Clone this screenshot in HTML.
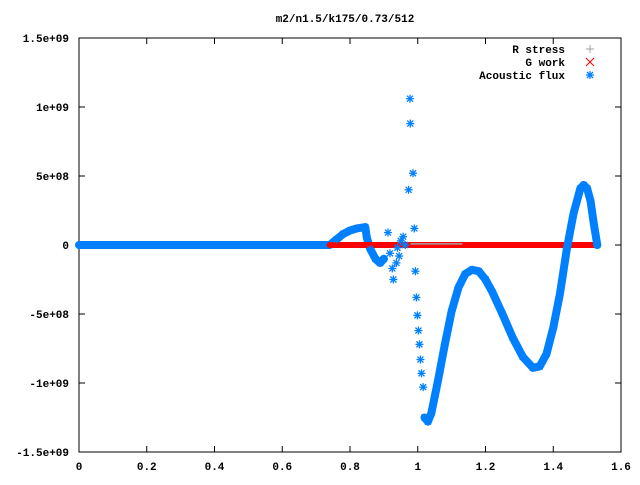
<!DOCTYPE html>
<html><head><meta charset="utf-8"><style>
html,body{margin:0;padding:0;background:#fff;}
svg text{font-family:"Liberation Mono",monospace;font-size:11px;font-weight:bold;fill:#000;}
</style></head><body>
<svg id="chart" width="640" height="480" xmlns="http://www.w3.org/2000/svg">
<rect x="0" y="0" width="640" height="480" fill="#fff"/>
<text x="345" y="22" text-anchor="middle">m2/n1.5/k175/0.73/512</text>
<g id="axes"></g>
<g id="series"></g>
<g id="legend">
<text x="565" y="53" text-anchor="end">R stress</text>
<text x="565" y="66" text-anchor="end">G work</text>
<text x="565" y="79" text-anchor="end">Acoustic flux</text>
<g stroke="#a0a0a0" stroke-width="1"><line x1="586" y1="49" x2="594" y2="49"/><line x1="590" y1="45" x2="590" y2="53"/></g>
<g stroke="#ff0000" stroke-width="1"><line x1="586" y1="58" x2="594" y2="66"/><line x1="594" y1="58" x2="586" y2="66"/></g>
<g stroke="#0080ff" stroke-width="1.3"><line x1="586" y1="75" x2="594" y2="75"/><line x1="590" y1="71" x2="590" y2="79"/><line x1="587" y1="72" x2="593" y2="78"/><line x1="593" y1="72" x2="587" y2="78"/></g>
</g>
</svg>
<script>
const xTicks=[0,0.2,0.4,0.6,0.8,1,1.2,1.4,1.6];
const xTickLabels=["0","0.2","0.4","0.6","0.8","1","1.2","1.4","1.6"];
const yTicks=[1.5e9,1e9,5e8,0,-5e8,-1e9,-1.5e9];
const yTickLabels=["1.5e+09","1e+09","5e+08","0","-5e+08","-1e+09","-1.5e+09"];
// Acoustic flux, continuous parts (x, value in units of 1e9)
const fluxCurveX=[0,0.74,0.76,0.78,0.80,0.82,0.845,0.85,0.86,0.875,0.889,0.90];
const fluxCurveY=[0,0,0.04,0.08,0.105,0.12,0.13,0.05,-0.03,-0.1,-0.13,-0.1];
const fluxCurve2X=[1.02,1.03,1.04,1.05,1.06,1.08,1.10,1.12,1.14,1.16,1.18,1.20,1.22,1.25,1.28,1.31,1.34,1.36,1.38,1.40,1.42,1.44,1.46,1.48,1.49,1.50,1.51,1.52,1.53];
const fluxCurve2Y=[-1.25,-1.28,-1.22,-1.1,-0.98,-0.72,-0.48,-0.31,-0.21,-0.18,-0.19,-0.25,-0.34,-0.5,-0.67,-0.81,-0.89,-0.88,-0.79,-0.6,-0.35,-0.03,0.23,0.41,0.435,0.41,0.32,0.15,0];
// Acoustic flux, isolated points
const fluxScatterX=[0.912,0.918,0.925,0.928,0.937,0.945,0.957,0.963,0.977,0.978,0.986,0.973,0.990,0.993,0.996,0.999,1.002,1.005,1.008,1.011,1.016,0.95,0.94];
const fluxScatterY=[0.09,-0.06,-0.17,-0.25,-0.13,-0.08,0.06,0.0,1.06,0.88,0.52,0.4,0.12,-0.19,-0.38,-0.51,-0.62,-0.72,-0.83,-0.93,-1.03,0.03,-0.02];
const gWorkX=[0.74,1.53];
const gWorkY=[0,0];
const rStressX=[0.98,1.13];
const rStressY=[0.008,0.008];

const L=79,R=621,T=38,B=452;
const sx=v=>L+(v-0)/1.6*(R-L);
const sy=v=>245-(v/1.5e9)*(245-T);
const syN=v=>sy(v*1e9);
const NS="http://www.w3.org/2000/svg";
function mk(tag,attrs,parent){const e=document.createElementNS(NS,tag);for(const k in attrs)e.setAttribute(k,attrs[k]);parent.appendChild(e);return e;}
const axes=document.getElementById('axes'), ser=document.getElementById('series');
const frame=mk('rect',{x:L,y:T,width:R-L,height:B-T,fill:'none',stroke:'#000','stroke-width':1},axes);


xTicks.forEach((t,i)=>{const x=sx(t);
 const g=mk('g',{},axes);
 
 
 mk('line',{x1:x,y1:B,x2:x,y2:B-6,stroke:'#000'},g);mk('line',{x1:x,y1:T,x2:x,y2:T+6,stroke:'#000'},g);
 const tx=mk('text',{x:x,y:470,'text-anchor':'middle'},g);tx.textContent=xTickLabels[i];});
yTicks.forEach((t,i)=>{const y=sy(t);
 const g=mk('g',{},axes);
 
 
 mk('line',{x1:L,y1:y,x2:L+6,y2:y,stroke:'#000'},g);mk('line',{x1:R,y1:y,x2:R-6,y2:y,stroke:'#000'},g);
 const tx=mk('text',{x:69,y:y+4,'text-anchor':'end'},g);tx.textContent=yTickLabels[i];});
function poly(xs,ys,color,w,name){const p=xs.map((v,i)=>sx(v)+','+syN(ys[i])).join(' ');
 const e=mk('polyline',{points:p,fill:'none',stroke:color,'stroke-width':w,'stroke-linejoin':'round','stroke-linecap':'round'},ser);
 
 }
function star(x,y){const g=mk('g',{stroke:'#0080ff','stroke-width':1.3},ser);
 
 
 mk('line',{x1:x-4,y1:y,x2:x+4,y2:y},g);mk('line',{x1:x,y1:y-4,x2:x,y2:y+4},g);
 mk('line',{x1:x-3,y1:y-3,x2:x+3,y2:y+3},g);mk('line',{x1:x+3,y1:y-3,x2:x-3,y2:y+3},g);}
poly(fluxCurveX,fluxCurveY,'#0080ff',8,'flux-curve-1');
poly(gWorkX,gWorkY,'#ff0000',6,'g-work-line');
poly(rStressX,rStressY,'#a0a0a0',1.5,'r-stress-line');
poly(fluxCurve2X,fluxCurve2Y,'#0080ff',8,'flux-curve-2');
fluxCurveX.forEach((v,i)=>{if(v>0.74)star(sx(v),syN(fluxCurveY[i]));});
fluxCurve2X.forEach((v,i)=>star(sx(v),syN(fluxCurve2Y[i])));
fluxScatterX.forEach((v,i)=>star(sx(v),syN(fluxScatterY[i])));
</script>
</body></html>
